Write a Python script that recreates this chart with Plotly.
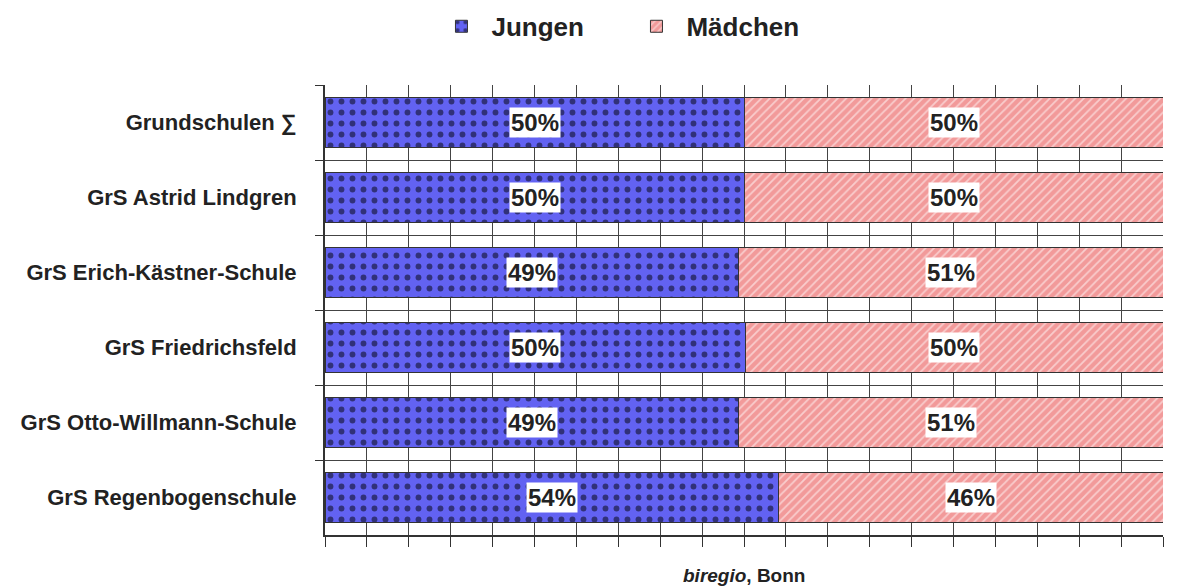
import plotly.graph_objects as go

categories = [
    "Grundschulen ∑",
    "GrS Astrid Lindgren",
    "GrS Erich-Kästner-Schule",
    "GrS Friedrichsfeld",
    "GrS Otto-Willmann-Schule",
    "GrS Regenbogenschule",
]
jungen = [50.1, 50.1, 49.3, 50.2, 49.3, 54.1]
maedchen = [49.9, 49.9, 50.7, 49.8, 50.7, 45.9]
x_ticks = list(range(0, 101, 5))

BLUE = "#6262F2"
PINK = "#F29A9A"
FONT = "Liberation Sans, Arial, sans-serif"
TXT = "#222222"

fig = go.Figure()
fig.add_trace(go.Bar(
    y=categories, x=jungen, orientation="h", name="Jungen",
    marker=dict(color=BLUE, line=dict(color="#333333", width=1),
                pattern=dict(shape=".", fgcolor="black", bgcolor=BLUE, size=11, solidity=0.22)),
    width=0.66,
))
fig.add_trace(go.Bar(
    y=categories, x=maedchen, orientation="h", name="Mädchen",
    marker=dict(color=PINK, line=dict(color="#333333", width=1),
                pattern=dict(shape="/", fgcolor="white", bgcolor=PINK, size=6, solidity=0.3)),
    width=0.66,
))

for c, j, m in zip(categories, jungen, maedchen):
    for xpos, val in ((j / 2, j), (j + m / 2, m)):
        fig.add_annotation(x=xpos, y=c, text=f"<b>{round(val)}%</b>", showarrow=False,
                           bgcolor="white", font=dict(size=24, color=TXT, family=FONT),
                           borderpad=1)

fig.add_annotation(xref="paper", yref="paper", x=0.5, y=-0.089, yanchor="middle",
                   text="<b><i>biregio</i>, Bonn</b>", showarrow=False,
                   font=dict(size=19, color=TXT, family=FONT))

fig.update_layout(
    width=1191, height=586,
    margin=dict(l=325, r=28, t=85, b=51, autoexpand=False),
    barmode="stack",
    plot_bgcolor="white", paper_bgcolor="white",
    font=dict(family=FONT, size=18, color=TXT),
    legend=dict(orientation="h", x=0.526, xanchor="center", xref="container",
                y=0.955, yanchor="middle", yref="container",
                font=dict(size=26, family=FONT, color=TXT, weight="bold"),
                itemwidth=50, entrywidth=130, entrywidthmode="pixels",
                traceorder="normal"),
    xaxis=dict(range=[0, 100], tickvals=x_ticks, showticklabels=False,
               showgrid=True, gridcolor="#444444", gridwidth=1,
               ticks="outside", ticklen=10, tickcolor="#333333",
               showline=True, linecolor="#333333", linewidth=2, zeroline=False),
    yaxis=dict(autorange="reversed", categoryorder="array", categoryarray=categories,
               tickfont=dict(size=22, family=FONT, color=TXT, weight="bold"),
               tickson="boundaries", ticks="outside", ticklen=8, tickcolor="#333333",
               ticklabelstandoff=22,
               showline=True, linecolor="#333333", linewidth=2,
               showgrid=True, gridcolor="#444444", gridwidth=1),
)

fig.write_html("out.html")
